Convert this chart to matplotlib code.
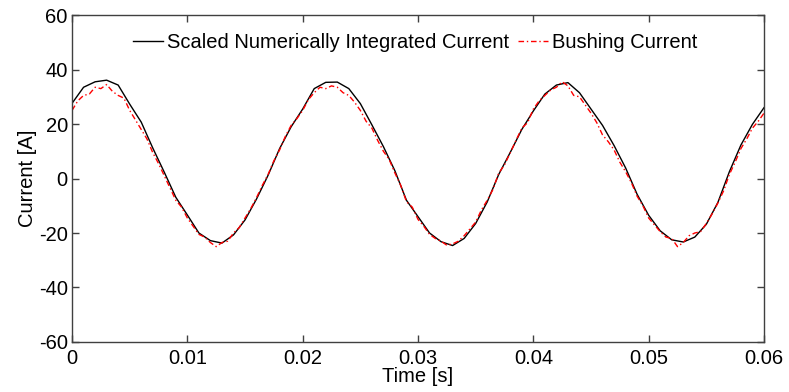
import matplotlib
matplotlib.use('Agg')
import matplotlib.pyplot as plt
import numpy as np
from matplotlib.ticker import FuncFormatter

# --- data ---

# scaled numerically integrated current, sampled every 1 ms
t_integrated = [i * 0.001 for i in range(61)]
i_integrated = [27.6, 33.5, 35.5, 36.1, 34.3, 27.3, 20.7, 11.2, 2.3, -6.9,
                -13.4, -20.0, -22.8, -23.7, -20.7, -15.2, -7.5, 1.2, 11.0, 19.0,
                25.5, 33.0, 35.3, 35.4, 33.0, 27.5, 19.7, 11.7, 2.8, -8.0,
                -14.0, -20.0, -23.2, -24.6, -22.0, -16.5, -8.6, 1.5, 9.6, 18.0,
                24.8, 31.0, 34.3, 35.2, 31.5, 25.5, 19.5, 12.1, 3.9, -5.8,
                -13.5, -19.2, -22.5, -23.3, -21.5, -16.8, -8.8, 2.5, 12.3, 19.9,
                26.0]

# bushing current, sampled every 0.5 ms
t_bushing = [i * 0.0005 for i in range(121)]
i_bushing = [25.0, 28.5, 30.5, 31.0, 33.5, 33.0, 34.5, 32.0, 30.5, 29.5,
             25.0, 21.5, 18.0, 14.5, 9.5, 5.5, 1.0, -3.5, -8.0, -10.5,
             -14.5, -17.5, -20.5, -21.5, -23.5, -25.0, -23.5, -23.0, -20.0, -18.0,
             -14.5, -11.0, -7.0, -2.5, 1.5, 6.5, 10.5, 15.5, 19.5, 22.0,
             25.0, 29.0, 31.5, 33.5, 33.0, 34.0, 33.5, 31.5, 30.5, 28.0,
             25.0, 21.0, 18.5, 14.0, 10.0, 7.0, 2.0, -2.5, -8.5, -10.5,
             -15.0, -17.5, -20.5, -22.0, -23.0, -24.5, -24.0, -23.0, -21.0, -18.5,
             -16.0, -11.5, -8.0, -4.0, 2.0, 5.0, 9.5, 14.0, 18.5, 20.5,
             25.5, 28.5, 30.5, 32.5, 33.5, 35.5, 34.0, 30.5, 30.0, 27.0,
             24.0, 20.5, 16.0, 13.5, 10.5, 6.0, 2.5, -1.5, -6.5, -10.0,
             -14.5, -17.0, -19.5, -21.5, -22.0, -25.0, -23.5, -21.0, -20.0, -19.5,
             -16.5, -13.0, -9.0, -4.5, 1.5, 6.0, 11.0, 14.5, 18.5, 21.0,
             24.0]

x_ticks = [0, 0.01, 0.02, 0.03, 0.04, 0.05, 0.06]
y_ticks = [-60, -40, -20, 0, 20, 40, 60]

plt.rcParams['font.family'] = ['Liberation Sans', 'DejaVu Sans']
plt.rcParams['axes.unicode_minus'] = False

fig = plt.figure(figsize=(7.89, 3.92), dpi=100)
ax = fig.add_axes([0.0913, 0.1276, 0.877, 0.834])

ax.plot(t_integrated, i_integrated, color='black', lw=1.0,
        label='Scaled Numerically Integrated Current')
ax.plot(t_bushing, i_bushing, color='red', lw=1.0, dashes=(4, 2, 1, 2),
        label='Bushing Current')

ax.set_xlim(0, 0.06)
ax.set_ylim(-60, 60)
ax.set_xticks(x_ticks)
ax.set_yticks(y_ticks)
ax.xaxis.set_major_formatter(FuncFormatter(lambda v, p: '0' if v == 0 else f'{v:g}'))
ax.tick_params(direction='in', top=True, right=True, length=5, width=1,
               color='#404040', labelsize=14.5)
ax.tick_params(axis='x', pad=5)
ax.tick_params(axis='y', pad=3)
for s in ax.spines.values():
    s.set_color('#404040')
    s.set_linewidth(1.0)

ax.set_xlabel('Time [s]', fontsize=14.5, labelpad=-1)
ax.set_ylabel('Current [A]', fontsize=14.5, labelpad=1)

ax.legend(loc='upper center', bbox_to_anchor=(0.496, 1.0), ncol=2, frameon=False,
          fontsize=14.5, handlelength=1.5, handletextpad=0.2, columnspacing=0.4)

fig.savefig('out.png', dpi=100)
